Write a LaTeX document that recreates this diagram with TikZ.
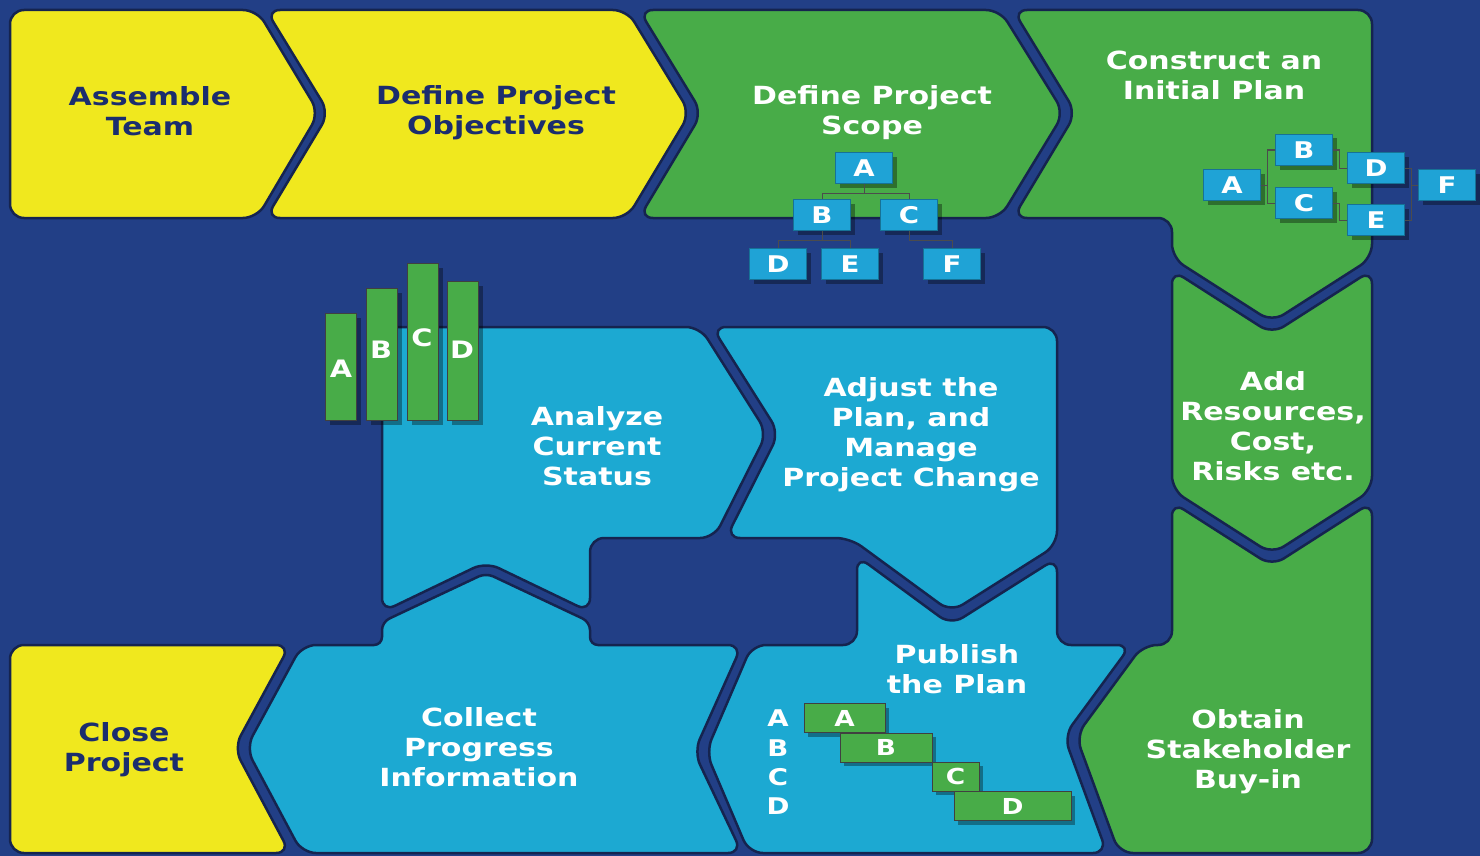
\documentclass[tikz,border=0pt]{standalone}
\usepackage{fontspec}
\newfontfamily\lblfont{DejaVu Sans Bold}[FakeStretch=1.2]
\usetikzlibrary{shadows}
\definecolor{bg}{HTML}{223F86}
\definecolor{edge}{HTML}{15244F}
\definecolor{yel}{HTML}{F0E81E}
\definecolor{grn}{HTML}{48AC48}
\definecolor{cyn}{HTML}{1CA9D2}
\definecolor{navytxt}{HTML}{1B2D6E}
\definecolor{boxc}{HTML}{1FA3D6}
\begin{document}
\begin{tikzpicture}[x=1pt,y=-1pt,
  piece/.style={draw=edge, line width=2.5pt, rounded corners=14pt},
  ytxt/.style={font=\lblfont\fontsize{25}{30}\selectfont, text=navytxt, align=center},
  wtxt/.style={font=\lblfont\fontsize{25}{30}\selectfont, text=white, align=center},
  shad/.style={general shadow={fill=black, opacity=0.35, shadow xshift=4pt, shadow yshift=-4pt}},
  wbox/.style={shad, fill=boxc, draw=boxc!70!black, line width=0.8pt, minimum width=57pt, minimum height=31pt, inner sep=0pt, text=white, font=\lblfont\fontsize{23}{23}\selectfont},
  bar/.style={shad, fill=grn, draw=black!75, line width=1pt, minimum width=31pt, inner sep=0pt, anchor=north west},
  blbl/.style={text=white, font=\lblfont\fontsize{24}{24}\selectfont, inner sep=0pt},
  gbar/.style={shad, fill=grn, draw=black!75, line width=1pt, minimum height=29pt, inner sep=0pt, text=white, font=\lblfont\fontsize{22}{22}\selectfont},
  glbl/.style={text=white, font=\lblfont\fontsize{23}{23}\selectfont, inner sep=0pt},
  conn/.style={draw=black!70, line width=1pt}
]
\fill[bg] (0,0) rectangle (1480,856);
\useasboundingbox (0,0) rectangle (1480,856);

% top row
\path[piece, fill=yel] (10,10) -- (257,10) -- (319,113) -- (257,218) -- (10,218) -- cycle;
\path[piece, fill=yel] (266,10) -- (627,10) -- (690,113) -- (627,218) -- (266,218) -- (329,113) -- cycle;
\path[piece, fill=grn] (639,10) -- (1000,10) -- (1064,113) -- (1000,218) -- (639,218) -- (702,113) -- cycle;
\path[piece, fill=grn] (1013,10) -- (1372,10) -- (1372,258) -- (1272,322) -- (1172,258) -- (1172,218) -- (1013,218) -- (1076,113) -- cycle;
% right column
\path[piece, fill=grn] (1172,270) -- (1272,334) -- (1372,270) -- (1372,490) -- (1272,554) -- (1172,490) -- cycle;
\path[piece, fill=grn] (1172,502) -- (1272,566) -- (1372,502) -- (1372,853) -- (1119,853) -- (1076,736) -- (1143,645) -- (1172,645) -- cycle;
% middle row
\path[piece, fill=cyn] (382,327) -- (700,327) -- (767,433) -- (714,538) -- (590,538) -- (590,612) -- (486,562) -- (382,612) -- cycle;
\path[piece, fill=cyn] (712,327) -- (1057,327) -- (1057,545) -- (951,612) -- (850,538) -- (726,538) -- (779,433) -- cycle;
% bottom row
\path[piece, fill=cyn] (752,645) -- (857,645) -- (857,556) -- (951,625) -- (1057,558) -- (1057,645) -- (1131,645) -- (1064,736) -- (1107,853) -- (749,853) -- (706,752) -- cycle;
\path[piece, fill=cyn] (302,645) [rounded corners=8pt] -- (382,645) -- (382,622) -- (486,573) -- (590,622) -- (590,645) [rounded corners=14pt] -- (742,645) -- (694,752) -- (742,853) -- (302,853) -- (246,748) -- cycle;
\path[piece, fill=yel] (10,645) -- (290,645) -- (234,748) -- (290,853) -- (10,853) -- cycle;

% labels
\node[ytxt] (tAssemble) at (150,111) {Assemble\\Team};
\node[ytxt] (tObj) at (496,113) {Define Project\\Objectives};
\node[wtxt] (tScope) at (872,113) {Define Project\\Scope};
\node[wtxt] (tConstruct) at (1214,75) {Construct an\\Initial Plan};
\node[wtxt] (tAdd) at (1273,426) {Add\\Resources,\\Cost,\\Risks etc.};
\node[wtxt] (tAnalyze) at (597,446) {Analyze\\Current\\Status};
\node[wtxt] (tAdjust) at (911,435) {Adjust the\\Plan, and\\Manage\\Project Change};
\node[wtxt] (tPublish) at (957,669) {Publish\\the Plan};
\node[wtxt] (tCollect) at (479,747) {Collect\\Progress\\Information};
\node[ytxt] (tClose) at (124,750) {Close\\Project};
\node[wtxt] (tObtain) at (1248,752) {Obtain\\Stakeholder\\Buy-in};

% scope tree
\node[wbox] (sA) at (864,168) {A};
\node[wbox] (sB) at (822,215) {B};
\node[wbox] (sC) at (909,215) {C};
\node[wbox] (sD) at (778,264) {D};
\node[wbox] (sE) at (850,264) {E};
\node[wbox] (sF) at (952,264) {F};
\draw[conn] (sA.south) -- ++(0,10) -| (sB.north);
\draw[conn] (sA.south) -- ++(0,10) -| (sC.north);
\draw[conn] (sB.south) -- ++(0,10) -| (sD.north);
\draw[conn] (sB.south) -- ++(0,10) -| (sE.north);
\draw[conn] (sC.south) -- ++(0,10) -| (sF.north);

% plan network
\node[wbox] (pA) at (1232,185) {A};
\node[wbox] (pB) at (1304,150) {B};
\node[wbox] (pC) at (1304,203) {C};
\node[wbox] (pD) at (1376,168) {D};
\node[wbox] (pE) at (1376,220) {E};
\node[wbox] (pF) at (1447,185) {F};
\draw[conn] (pA.east) -- ++(7,0) |- (pB.west);
\draw[conn] (pA.east) -- ++(7,0) |- (pC.west);
\draw[conn] (pB.east) -- ++(7,0) |- (pD.west);
\draw[conn] (pC.east) -- ++(7,0) |- (pE.west);
\draw[conn] (pD.east) -- ++(7,0) |- (pF.west);
\draw[conn] (pE.east) -- ++(7,0) |- (pF.west);

% bar chart
\node[bar, minimum height=107pt] (bA) at (325,313) {};
\node[bar, minimum height=132pt] (bB) at (366,288) {};
\node[bar, minimum height=157pt] (bC) at (407,263) {};
\node[bar, minimum height=139pt] (bD) at (447,281) {};
\node[blbl] (lA) at (341,369) {A};
\node[blbl] (lB) at (381,350) {B};
\node[blbl] (lC) at (422,338) {C};
\node[blbl] (lD) at (462,350) {D};

% gantt
\node[glbl] (gla) at (778,718) {A};
\node[glbl] (glb) at (778,748) {B};
\node[glbl] (glc) at (778,777) {C};
\node[glbl] (gld) at (778,806) {D};
\node[gbar, minimum width=81pt] (gA) at (844.5,718) {A};
\node[gbar, minimum width=92pt] (gB) at (886,747.5) {B};
\node[gbar, minimum width=47pt] (gC) at (955.5,776.5) {C};
\node[gbar, minimum width=117pt] (gD) at (1012.5,806) {D};
\end{tikzpicture}
\end{document}
